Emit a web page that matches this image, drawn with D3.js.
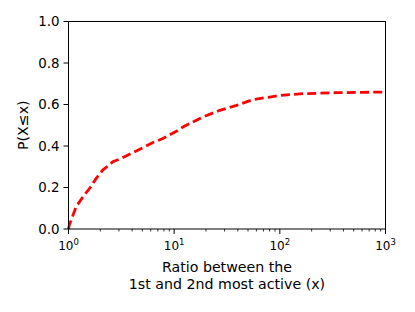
<!DOCTYPE html>
<html>
<head>
<meta charset="utf-8">
<script src="https://cdn.jsdelivr.net/npm/d3@7"></script>
<style>
  body { margin: 0; background: #fff; }
  svg { display: block; font-family: "DejaVu Sans", sans-serif; }
</style>
</head>
<body>
<svg id="chart" width="415" height="312"></svg>
<script>
// CDF of ratio between 1st and 2nd most active
const ratio = [1.0, 1.02, 1.18, 1.37, 1.58, 1.83, 2.11, 2.63, 3.16, 3.93, 4.89, 6.3, 7.83, 10.9, 12.1, 18.7, 27, 38.9, 55.8, 80.4, 100, 166, 345, 1000];
const cdf   = [0.0, 0.02, 0.107, 0.155, 0.195, 0.244, 0.284, 0.324, 0.34, 0.364, 0.388, 0.417, 0.436, 0.476, 0.492, 0.54, 0.572, 0.596, 0.624, 0.636, 0.644, 0.652, 0.657, 0.66];
const yTicks = [0, 0.2, 0.4, 0.6, 0.8, 1.0];
const xDecades = [0, 1, 2, 3];

const svg = d3.select("#chart");
const m = {left: 68.5, right: 385.5, top: 21.5, bottom: 229};

const x = d3.scaleLog().domain([1, 1000]).range([m.left, m.right]);
const y = d3.scaleLinear().domain([0, 1]).range([m.bottom, m.top]);

// line
const pts = ratio.map((r, i) => [r, cdf[i]]);
svg.append("path")
  .datum(pts)
  .attr("fill", "none")
  .attr("stroke", "#ff0000")
  .attr("stroke-width", 2.8)
  .attr("stroke-dasharray", "9,4.2")
  .attr("d", d3.line().x(d => x(d[0])).y(d => y(d[1])));

// frame
svg.append("rect")
  .attr("x", m.left).attr("y", m.top)
  .attr("width", m.right - m.left).attr("height", m.bottom - m.top)
  .attr("fill", "none").attr("stroke", "#000").attr("stroke-width", 1);

// y axis
const yAxis = svg.append("g");
yTicks.forEach(t => {
  yAxis.append("line")
    .attr("x1", m.left - 5).attr("x2", m.left)
    .attr("y1", y(t)).attr("y2", y(t))
    .attr("stroke", "#000").attr("stroke-width", 1);
  yAxis.append("text")
    .attr("x", m.left - 9).attr("y", y(t))
    .attr("dy", "0.35em")
    .attr("text-anchor", "end")
    .attr("font-size", 13.4)
    .text(t.toFixed(1));
});

// x axis: major + minor ticks
const xAxis = svg.append("g");
xDecades.forEach(p => {
  const v = Math.pow(10, p);
  xAxis.append("line")
    .attr("x1", x(v)).attr("x2", x(v))
    .attr("y1", m.bottom).attr("y2", m.bottom + 5)
    .attr("stroke", "#000").attr("stroke-width", 1);
  const t = xAxis.append("text")
    .attr("x", x(v)).attr("y", 249.5)
    .attr("text-anchor", "middle")
    .attr("font-size", 12);
  t.append("tspan").text("10");
  t.append("tspan").attr("dy", -5).attr("font-size", 8.5).text(p);
  if (p < 3) {
    for (let k = 2; k <= 9; k++) {
      xAxis.append("line")
        .attr("x1", x(k * v)).attr("x2", x(k * v))
        .attr("y1", m.bottom).attr("y2", m.bottom + 2.5)
        .attr("stroke", "#000").attr("stroke-width", 0.8);
    }
  }
});

// labels
const cx = (m.left + m.right) / 2;
svg.append("text")
  .attr("x", cx).attr("y", 272)
  .attr("text-anchor", "middle").attr("font-size", 14.2)
  .text("Ratio between the");
svg.append("text")
  .attr("x", cx).attr("y", 288.5)
  .attr("text-anchor", "middle").attr("font-size", 14.2)
  .text("1st and 2nd most active (x)");
svg.append("text")
  .attr("transform", `translate(28,${(m.top + m.bottom) / 2}) rotate(-90)`)
  .attr("text-anchor", "middle").attr("font-size", 14.2)
  .text("P(X≤x)");
</script>
</body>
</html>
